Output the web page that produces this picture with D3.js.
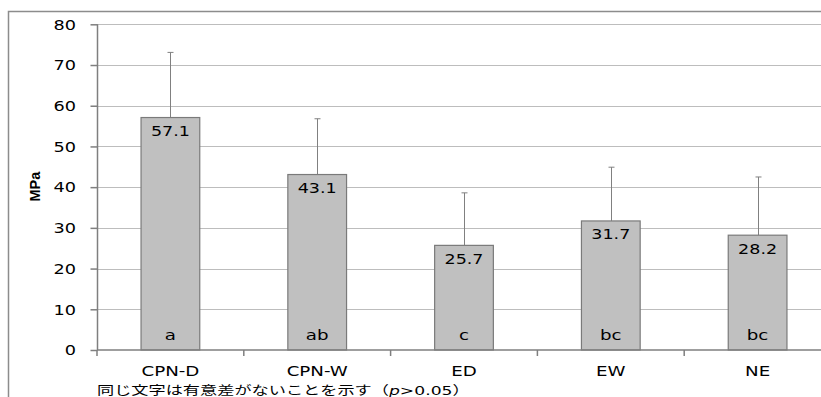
<!DOCTYPE html>
<html><head><meta charset="utf-8">
<script src="https://cdn.jsdelivr.net/npm/d3@7"></script>
<style>body{margin:0;background:#fff}svg{display:block}</style>
</head><body><svg id="c" width="821" height="397"></svg>
<script>
const categories = ["CPN-D","CPN-W","ED","EW","NE"];
const means = [57.1,43.1,25.7,31.7,28.2];
const errTop = [73.1,56.8,38.6,44.9,42.5];
const groups = ["a","ab","c","bc","bc"];
const yTicks = [0,10,20,30,40,50,60,70,80];
const yLabel = "MPa";
const note = "同じ文字は有意差がないことを示す（";

const svg = d3.select("#c");
const font = "'DejaVu Sans', Verdana, sans-serif";
const K = 1.35; // horizontal stretch of the reference text
const x = d3.scaleBand().domain(categories).range([97,831]).paddingInner(0.6).paddingOuter(0.3);
const y = d3.scaleLinear().domain([0,80]).range([350,24.3]);

function stxt(g, tx, ty, str, size, anchor, k) {
  return g.append("text").attr("transform",`translate(${tx},${ty}) scale(${k||K},1)`)
    .attr("text-anchor",anchor).attr("font-family",font).attr("font-size",size).attr("fill","#000").text(str);
}

// outer frame
svg.append("path").attr("d","M8.5,397V11.5H821").attr("fill","none").attr("stroke","#8c8c8c").attr("stroke-width",1.5);

// gridlines
svg.append("g").selectAll("line").data(yTicks.filter(d=>d>0)).join("line")
  .attr("x1",97).attr("x2",821).attr("y1",d=>Math.round(y(d))+0.5).attr("y2",d=>Math.round(y(d))+0.5)
  .attr("stroke","#bdbdbd").attr("stroke-width",1);

// y axis
const ya = svg.append("g").attr("transform","translate(97.5,0)")
  .call(d3.axisLeft(y).tickValues(yTicks).tickSize(7).tickFormat(""));
ya.select(".domain").attr("stroke","#7f7f7f").attr("stroke-width",1.5).attr("d","M0,"+y(80)+"V"+y(0));
ya.selectAll(".tick line").attr("stroke","#7f7f7f").attr("stroke-width",1.5);
const yl = svg.append("g");
yTicks.forEach(t=>stxt(yl, 76, y(t)+5.3, d3.format("d")(t), 14.5, "end", 1.22));

// error bars
const eb = svg.append("g");
categories.forEach((c,i)=>{
  const cx = Math.round(x(c)+x.bandwidth()/2)+0.5;
  eb.append("line").attr("x1",cx).attr("x2",cx).attr("y1",y(means[i])).attr("y2",y(errTop[i])).attr("stroke","#808080").attr("stroke-width",1);
  eb.append("line").attr("x1",cx-3).attr("x2",cx+3).attr("y1",y(errTop[i])).attr("y2",y(errTop[i])).attr("stroke","#808080").attr("stroke-width",1);
});

// bars
svg.append("g").selectAll("rect").data(categories).join("rect")
  .attr("x",d=>x(d)).attr("width",x.bandwidth())
  .attr("y",(d,i)=>y(means[i])).attr("height",(d,i)=>y(0)-y(means[i]))
  .attr("fill","#c0c0c0").attr("stroke","#7a7a7a").attr("stroke-width",1.2);

// x axis
const xa = svg.append("g");
xa.append("line").attr("x1",97).attr("x2",821).attr("y1",350).attr("y2",350).attr("stroke","#7f7f7f").attr("stroke-width",1.5);
const step = x.step();
d3.range(0,6).forEach(k=>{
  const tx = 97 + k*step;
  if (tx<=821) xa.append("line").attr("x1",tx).attr("x2",tx).attr("y1",350).attr("y2",356).attr("stroke","#7f7f7f").attr("stroke-width",1.5);
});
const lab = svg.append("g");
categories.forEach((c,i)=>{
  const cx = x(c)+x.bandwidth()/2;
  stxt(lab, cx, 376, c, 13.5, "middle");
  stxt(lab, cx, y(means[i])+18.5, means[i].toFixed(1), 13.5, "middle", 1.3);
  stxt(lab, cx, 340, groups[i], 13.5, "middle");
});

// y label
svg.append("text").attr("transform","translate(40,186.7) rotate(-90)").attr("text-anchor","middle")
  .attr("font-family","'Liberation Sans', Arial, sans-serif").attr("font-weight","bold").attr("font-size",14.5).text(yLabel);

// footnote
const ft = svg.append("text").attr("transform","translate(97,395) scale(1.375,1)")
  .attr("font-family","'Noto Sans CJK JP', sans-serif").attr("font-size",12.5).attr("fill","#000");
ft.append("tspan").text(note);
ft.append("tspan").attr("font-style","italic").attr("font-family",font).text("p");
ft.append("tspan").attr("font-family",font).text(">0.05");
ft.append("tspan").text("）");
</script></body></html>
